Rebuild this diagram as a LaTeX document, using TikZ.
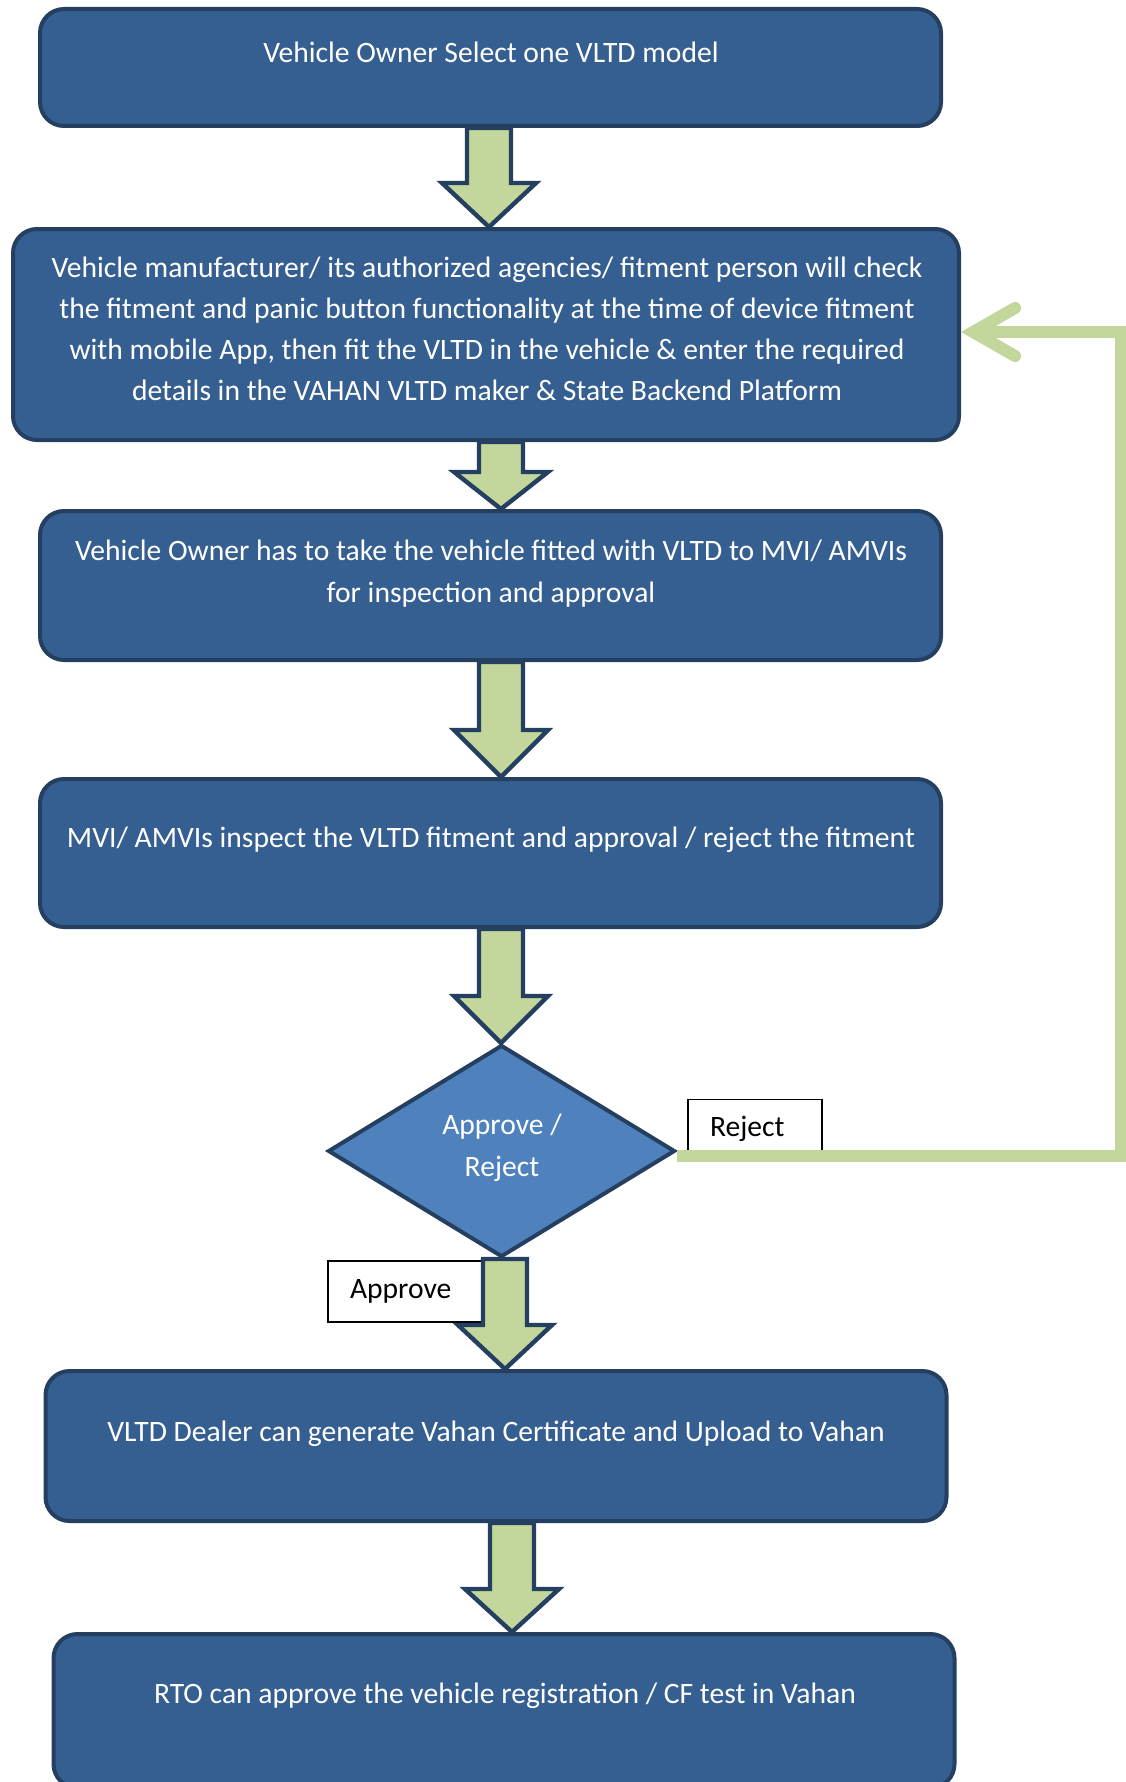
\documentclass[tikz,border=0pt]{standalone}
\usepackage{fontspec}
\setmainfont{Carlito}
\usetikzlibrary{arrows.meta,positioning,shapes.geometric,calc}
\definecolor{boxblue}{RGB}{54,95,145}
\definecolor{boxedge}{RGB}{36,63,96}
\definecolor{decblue}{RGB}{79,129,189}
\definecolor{arrowgreen}{RGB}{195,214,155}

\newcommand{\fatarrow}[4]{%
  \path (#1,0 |- #2.south) coordinate (fa-top) (#1,0 |- #3.north) coordinate (fa-tip);
  \draw[fatarrow] ($(fa-top)+(-22,0)$) -- ($(fa-top)+(22,0)$) -- ($(fa-tip)+(22,-#4)$)
    -- ($(fa-tip)+(47,-#4)$) -- (fa-tip) -- ($(fa-tip)+(-47,-#4)$) -- ($(fa-tip)+(-22,-#4)$) -- cycle;}

\begin{document}
\begin{tikzpicture}[x=0.5pt, y=-0.5pt,
  block/.style={rectangle, draw=boxedge, line width=2pt, rounded corners=12pt, fill=boxblue, minimum width=450.5pt},
  blocktext/.style={text=white, align=center, font=\fontsize{14.8}{20.5}\selectfont},
  decision/.style={diamond, draw=boxedge, line width=2pt, fill=decblue, inner sep=0pt},
  tag/.style={rectangle, draw=black, line width=0.7pt, fill=white, inner xsep=11pt, align=left, font=\fontsize{14.8}{20}\selectfont},
  fatarrow/.style={draw=boxedge, line width=2.2pt, fill=arrowgreen, line join=miter},
  loopline/.style={draw=arrowgreen, line width=6pt, -{Straight Barb[length=21pt, width=24pt, line cap=round]}}
]
\useasboundingbox (0,0) rectangle (1125,1782);

\node[block, minimum height=58.5pt] (own) at (490.5,67.5) {};
\node[blocktext] (ownt) at (491,52) {Vehicle Owner Select one VLTD model};

\node[block, minimum width=473pt, minimum height=105.5pt] (mfr) at (486,334.5) {};
\node[blocktext] (mfrt) at (487,329) {Vehicle manufacturer/ its authorized agencies/ fitment person will check\\
  the fitment and panic button functionality at the time of device fitment\\
  with mobile App, then fit the VLTD in the vehicle \& enter the required\\
  details in the VAHAN VLTD maker \& State Backend Platform};

\node[block, minimum height=74.5pt] (take) at (490.5,585.5) {};
\node[blocktext, font=\fontsize{14.8}{21}\selectfont] (taket) at (491,573.5) {Vehicle Owner has to take the vehicle fitted with VLTD to MVI/ AMVIs\\
  for inspection and approval};

\node[block, minimum height=74pt] (insp) at (490.5,853) {};
\node[blocktext] (inspt) at (491,840) {MVI/ AMVIs inspect the VLTD fitment and approval / reject the fitment};

\node[decision, minimum width=173.5pt, minimum height=106pt] (dec) at (501.5,1151) {};
\node[blocktext, font=\fontsize{14.8}{21}\selectfont] (dect) at (502,1147.5) {Approve /\\Reject};

\node[tag, minimum width=67pt, minimum height=29.5pt, text width=45pt] (rej) at (755,1129) {Reject};
\node[tag, minimum width=77.5pt, minimum height=30.5pt, text width=55.5pt] (apr) at (405.5,1291.5) {Approve};

\node[block, minimum height=75pt] (dlr) at (496,1446) {};
\node[blocktext] (dlrt) at (496,1434) {VLTD Dealer can generate Vahan Certificate and Upload to Vahan};

\node[block, minimum height=77pt] (rto) at (504,1711) {};
\node[blocktext] (rtot) at (505,1696) {RTO can approve the vehicle registration / CF test in Vahan};

\fatarrow{489}{own}{mfr}{44}
\fatarrow{501}{mfr}{take}{37}
\fatarrow{501}{take}{insp}{47}
\fatarrow{501}{insp}{dec}{47}
\fatarrow{505}{dec}{dlr}{44}
\fatarrow{512}{dlr}{rto}{43}

\coordinate (rejout) at ($(dec.east)+(0,5)$);
\coordinate (back) at (1121,332);
\draw[loopline] (rejout) -| (back) -- (back -| mfr.east);
\end{tikzpicture}
\end{document}
